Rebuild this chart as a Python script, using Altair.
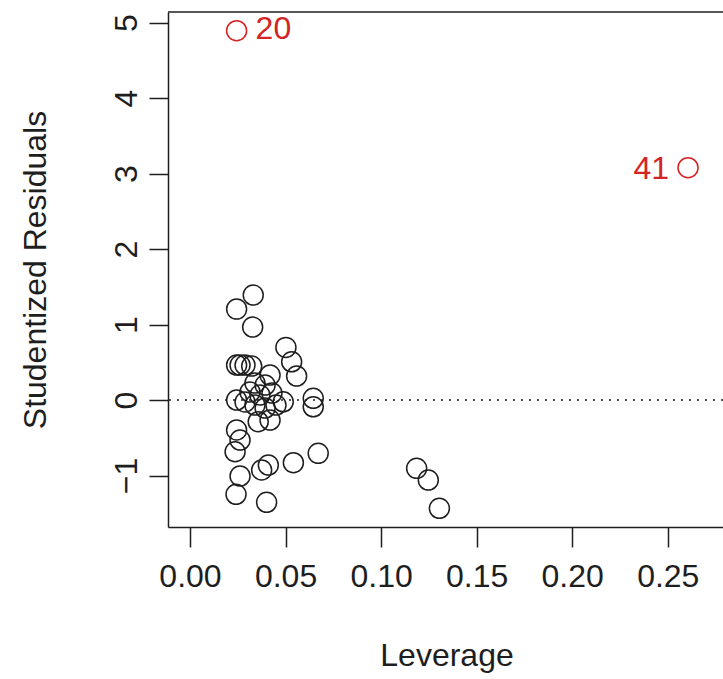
import altair as alt
import pandas as pd

# black observations: leverage, studentized residual
lev_black = [0.0331, 0.0244, 0.0328, 0.0502, 0.0532, 0.0558, 0.0244, 0.0262, 0.0288, 0.0323,
             0.0419, 0.0244, 0.0488, 0.0645, 0.0645, 0.0357, 0.0419, 0.0244, 0.0262, 0.0236,
             0.0671, 0.0541, 0.0410, 0.0375, 0.0262, 0.0241, 0.0401, 0.1186, 0.1247, 0.1305,
             0.0340, 0.0393, 0.0314, 0.0366, 0.0429, 0.0288, 0.0340, 0.0393, 0.0450]
res_black = [1.391, 1.205, 0.967, 0.698, 0.507, 0.318, 0.464, 0.464, 0.464, 0.450,
             0.331, 0.000, -0.023, 0.023, -0.089, -0.287, -0.265, -0.397, -0.530, -0.685,
             -0.706, -0.830, -0.861, -0.927, -1.007, -1.249, -1.355, -0.905, -1.060, -1.434,
             0.225, 0.199, 0.106, 0.066, 0.093, -0.026, -0.066, -0.106, -0.066]

# highlighted observations
lev_red = [0.0244, 0.2606]
res_red = [4.894, 3.079]
lab_red = ["20", "41"]
side_red = ["right", "left"]

x_ticks = [0.0, 0.05, 0.10, 0.15, 0.20, 0.25]
y_ticks = [-1, 0, 1, 2, 3, 4, 5]

black = pd.DataFrame({"lev": lev_black, "res": res_black})
red = pd.DataFrame({"lev": lev_red, "res": res_red, "lab": lab_red, "side": side_red})

FONT = "Liberation Sans"
INK = "#1e1e1e"
RED = "#d42424"

xs = alt.Scale(domain=[-0.0115, 0.2789], nice=False, zero=False)
ys = alt.Scale(domain=[-1.682, 5.142], nice=False, zero=False)

x_axis = alt.Axis(values=x_ticks, format=".2f", title="Leverage", grid=False,
                  tickSize=20, labelPadding=14, labelBaseline="top",
                  titleX=278.5, titleY=138, titleBaseline="alphabetic", titleAlign="center")
y_axis = alt.Axis(values=y_ticks, format="d", title="Studentized Residuals", grid=False,
                  tickSize=19, labelAngle=-90, labelAlign="center", labelBaseline="alphabetic",
                  labelPadding=13,
                  titleAngle=-90, titleX=-123, titleY=257.5, titleAlign="center",
                  titleBaseline="alphabetic")

pts = alt.Chart(black).mark_point(shape="circle", filled=False, size=400,
                                  strokeWidth=1.5, color=INK, opacity=1).encode(
    x=alt.X("lev:Q", scale=xs, axis=x_axis),
    y=alt.Y("res:Q", scale=ys, axis=y_axis),
)

red_pts = alt.Chart(red).mark_point(shape="circle", filled=False, size=400,
                                    strokeWidth=1.5, color=RED, opacity=1).encode(
    x=alt.X("lev:Q", scale=xs),
    y=alt.Y("res:Q", scale=ys),
)

lab_r = alt.Chart(red[red.side == "right"]).mark_text(
    align="left", baseline="middle", dx=19, dy=-2, font=FONT, fontSize=32, color=RED).encode(
    x=alt.X("lev:Q", scale=xs), y=alt.Y("res:Q", scale=ys), text="lab:N")
lab_l = alt.Chart(red[red.side == "left"]).mark_text(
    align="right", baseline="middle", dx=-19, dy=1, font=FONT, fontSize=32, color=RED).encode(
    x=alt.X("lev:Q", scale=xs), y=alt.Y("res:Q", scale=ys), text="lab:N")

zero_line = alt.Chart(pd.DataFrame({"z": [0]})).mark_rule(
    color=INK, strokeWidth=1.5, strokeDash=[2, 6]).encode(y=alt.Y("z:Q", scale=ys))

top_border = alt.Chart(pd.DataFrame({"z": [0]})).mark_rule(
    color=INK, strokeWidth=1.5).encode(x=alt.value(0), x2=alt.value(560), y=alt.value(0))

chart = alt.layer(zero_line, pts, red_pts, lab_r, lab_l, top_border).properties(
    width=555, height=515,
    autosize=alt.AutoSizeParams(type="none"),
    padding={"left": 168, "top": 12, "right": 0, "bottom": 152},
    background="white",
).configure_view(stroke=None).configure_axis(
    labelFont=FONT, labelFontSize=32, labelColor=INK,
    titleFont=FONT, titleFontSize=32, titleColor=INK, titleFontWeight="normal",
    domainColor=INK, domainWidth=1.5, tickColor=INK, tickWidth=1.5,
    labelOverlap=False,
)

chart.save("out.html", embed_options={"renderer": "svg", "actions": False})
